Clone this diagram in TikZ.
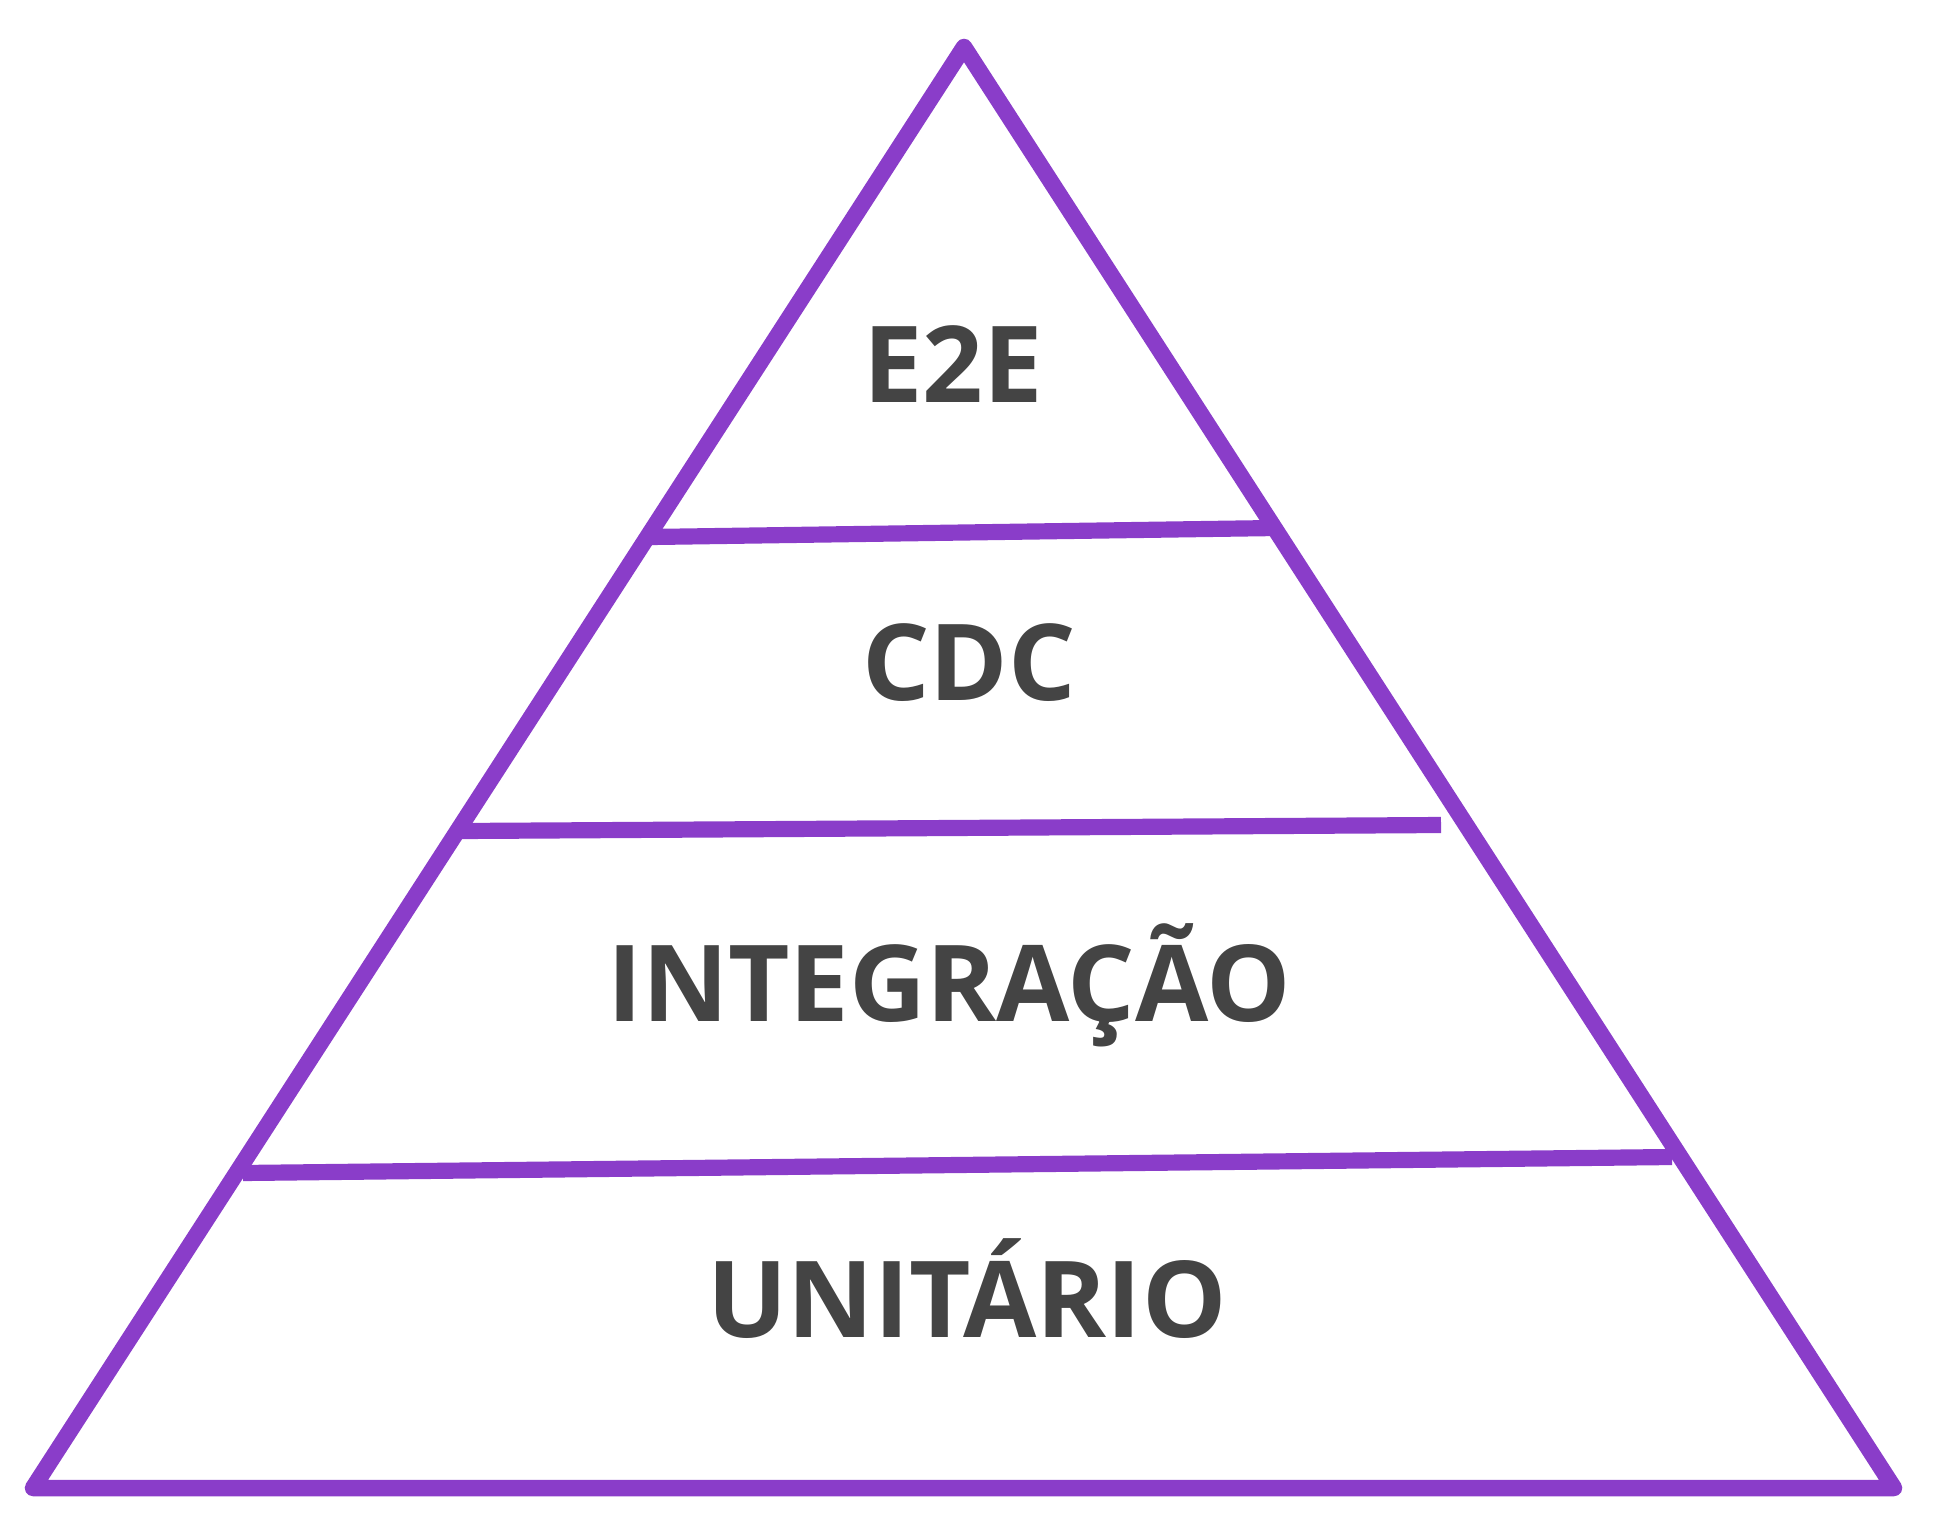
\documentclass[tikz,border=0pt]{standalone}
\usepackage{fontspec}
\setmainfont{Open Sans}
\usetikzlibrary{positioning}
\definecolor{pyrpurple}{HTML}{8A3DC9}
\definecolor{labelgray}{HTML}{444444}

\begin{document}
\begin{tikzpicture}[x=0.01cm,y=-0.01cm]
  \tikzset{
    edge/.style={pyrpurple,line width=4.7pt,line join=round,line cap=round},
    divider/.style={pyrpurple,line width=4.6pt},
    level/.style={text=labelgray,font=\fontsize{30.2}{30}\selectfont\bfseries,inner sep=0pt,anchor=base}
  }
  \useasboundingbox (0,0) rectangle (1936,1530);
  % pyramid outline
  \coordinate (apex) at (964,47);
  \coordinate (bl) at (33,1488);
  \coordinate (br) at (1894,1488);
  \draw[edge] (apex) -- (br) -- (bl) -- cycle;
  % dividers
  \coordinate (d1l) at (651,537);
  \coordinate (d1r) at (1276,528);
  \coordinate (d2l) at (462,831);
  \coordinate (d2r) at (1441,825);
  \coordinate (d3l) at (243,1173);
  \coordinate (d3r) at (1672,1157);
  \draw[divider] (d1l) -- (d1r);
  \draw[divider] (d2l) -- (d2r);
  \draw[divider] (d3l) -- (d3r);
  % labels
  \node[level] (e2e) at (953,402) {E2E};
  \node[level] (cdc) at (969,700) {CDC};
  \node[level] (integ) at (949,1021) {INTEGRAÇÃO};
  \node[level] (unit) at (967,1337) {UNITÁRIO};
\end{tikzpicture}
\end{document}
